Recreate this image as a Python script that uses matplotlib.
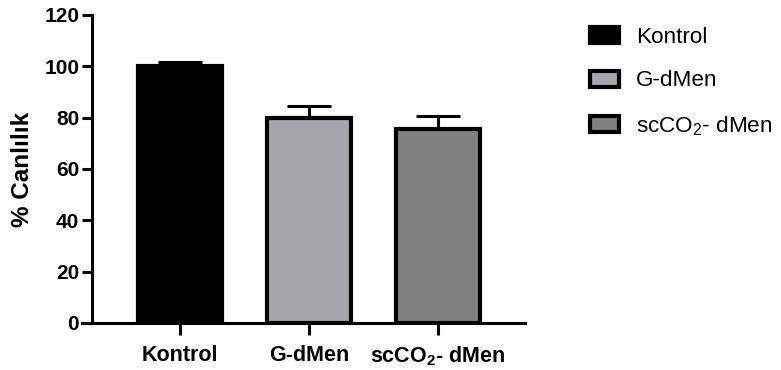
import matplotlib.pyplot as plt
from matplotlib.patches import Patch
import numpy as np

# Data
groups = ["Kontrol", "G-dMen", "scCO$_\\mathbf{2}$- dMen"]
legend_labels = ["Kontrol", "G-dMen", "scCO$_\\mathrm{2}$- dMen"]
means = [100.3, 79.8, 75.5]
errors = [1.4, 4.7, 5.0]
yticks = [0, 20, 40, 60, 80, 100, 120]
colors = ["#000000", "#a6a6aa", "#808080"]

plt.rcParams['font.family'] = ['Liberation Sans', 'DejaVu Sans']
plt.rcParams['mathtext.fontset'] = 'custom'
plt.rcParams['mathtext.rm'] = 'Liberation Sans'
plt.rcParams['mathtext.bf'] = 'Liberation Sans:bold'

fig = plt.figure(figsize=(7.81, 3.70), dpi=100)
W, H = 781, 370
ax = fig.add_axes([82 / W, 47 / H, (525 - 82) / W, 308 / H])

# spine setup first (moving a spine resets the ticks)
ax.spines['top'].set_visible(False)
ax.spines['right'].set_visible(False)
ax.spines['left'].set_position(('data', -0.68))
ax.spines['left'].set_linewidth(2.2)
ax.spines['bottom'].set_linewidth(2.2)

x = np.arange(len(groups))
ax.bar(x, means, width=0.65, color=colors, edgecolor="black", linewidth=3, zorder=2)
ax.errorbar(x, means, yerr=[np.zeros(len(errors)), errors], fmt="none",
            ecolor="black", elinewidth=2.2, capsize=15.5, capthick=2.2, zorder=1)

ax.set_xlim(-0.76, 2.674)
ax.set_ylim(0, 120)
ax.set_yticks(yticks, [str(v) for v in yticks], fontsize=15, fontweight="bold")
ax.set_xticks(x, groups, fontsize=15.5, fontweight="bold")
ax.tick_params(axis='y', length=7.5, width=2.2, pad=2)
ax.tick_params(axis='x', length=8.5, width=2.2, pad=7)

ax.set_ylabel("% Canlılık", fontsize=17.5, fontweight="bold", labelpad=7)

handles = [Patch(facecolor=c, edgecolor="black", linewidth=3) for c in colors]
fig.legend(handles, legend_labels, loc="upper left", bbox_to_anchor=(590 / W, 1 - 27 / H),
           frameon=False, fontsize=16.2, handlelength=1.3, handleheight=0.7,
           handletextpad=0.75, labelspacing=1.0, borderaxespad=0, borderpad=0)

fig.savefig("out.png", dpi=100)
